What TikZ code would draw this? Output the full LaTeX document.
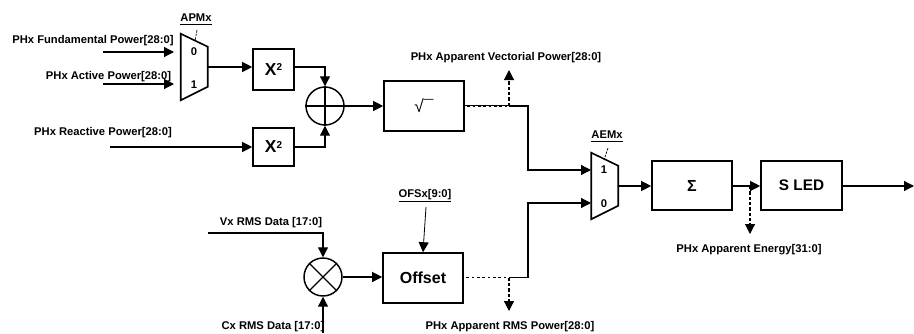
\documentclass[tikz,border=0pt]{standalone}
\usepackage{fontspec}
\setmainfont{Liberation Sans}
\usetikzlibrary{arrows.meta}
\newcommand{\sqmark}{X\raisebox{3.6pt}{\fontsize{7.5pt}{8pt}\selectfont 2}}
\tikzset{
  x=0.75pt,y=-0.75pt,
  wire/.style={line width=0.9pt,draw=black},
  arrowwire/.style={wire,-{Triangle[length=7.5pt,width=7.5pt]}},
  dashwire/.style={line width=0.9pt,dash pattern=on 2.6pt off 1.4pt},
  dasharrow/.style={dashwire,-{Triangle[length=7.5pt,width=7.5pt,sep=0pt]}},
  blockbox/.style={draw=black,line width=1.2pt,inner sep=0pt,font=\bfseries\fontsize{#1}{#1}\selectfont},
  blockbox/.default=11pt,
  sumcircle/.style={draw=black,line width=1.1pt,circle,inner sep=0pt,minimum size=28.5pt},
  lab/.style={inner sep=0pt,yshift=-1.1pt,font=\bfseries\fontsize{8.4pt}{9pt}\selectfont},
  pin/.style={inner sep=0pt,yshift=-0.7pt,font=\bfseries\fontsize{8.4pt}{9pt}\selectfont},
  muxframe/.style={inner sep=0pt,minimum width=20.25pt},
  muxline/.style={draw=black,line width=1.2pt,line join=miter},
  tick/.style={line width=0.5pt,dash pattern=on 2pt off 0.8pt},
  fleck/.style={white,line width=0.15pt,dash pattern=on 2pt off 2pt},
}
\begin{document}
\begin{tikzpicture}
\useasboundingbox (0,0) rectangle (914,333);
% blocks
\node[blockbox=13pt,minimum width=30.75pt,minimum height=30.75pt] (sq1) at (273.5,69.5) {\sqmark};
\node[blockbox=13pt,minimum width=30.75pt,minimum height=28.5pt] (sq2) at (273.5,147) {\sqmark};
\node[blockbox,font=\fontsize{13pt}{13pt}\selectfont,minimum width=60pt,minimum height=37.5pt] (root) at (424,106) {√¯};
\node[blockbox=12pt,minimum width=60pt,minimum height=37.5pt] (ofs) at (423,278) {Offset};
\node[blockbox=12pt,minimum width=60pt,minimum height=36.75pt] (sig) at (692,185.5) {Σ};
\node[blockbox=11.5pt,minimum width=60.75pt,minimum height=36.75pt] (led) at (801.5,185.5) {S LED};
\node[sumcircle] (add) at (325,106) {};
\node[sumcircle] (mul) at (323,277) {};
\draw[wire] (add.west)--(add.east) (add.north)--(add.south);
\draw[wire] (mul.north west)--(mul.south east) (mul.north east)--(mul.south west);
% muxes
\node[muxframe,minimum height=49.5pt] (apm) at (194.5,67) {};
\draw[muxline] (apm.north west)--++(27,13)--++(0,40)--(apm.south west)--cycle;
\node[muxframe,minimum height=49.5pt] (aem) at (605,186) {};
\draw[muxline] (aem.north west)--++(27,13)--++(0,40)--(aem.south west)--cycle;
\node[pin] (apm0) at (194,51) {0};
\node[pin] (apm1) at (194,84) {1};
\node[pin] (aem1) at (604,169) {1};
\node[pin] (aem0) at (604,203) {0};
% labels
\node[lab] (lfund) at (93,39) {PHx Fundamental Power[28:0]};
\node[lab] (lact) at (108.5,75) {PHx Active Power[28:0]};
\node[lab] (lreac) at (103,131.5) {PHx Reactive Power[28:0]};
\node[lab] (lvect) at (506,56) {PHx Apparent Vectorial Power[28:0]};
\node[lab] (lvx) at (271,221) {Vx RMS Data [17:0]};
\node[lab] (lcx) at (273,325) {Cx RMS Data [17:0]};
\node[lab] (lrms) at (510,325) {PHx Apparent RMS Power[28:0]};
\node[lab] (lenergy) at (749,248) {PHx Apparent Energy[31:0]};
\node[lab] (lapm) at (196,18) {\underline{APMx}};
\node[lab] (laem) at (607,135) {\underline{AEMx}};
\node[lab] (lofs) at (425,194) {\underline{OFSx[9:0]}};
% free ends
\coordinate (fundS) at (103,52); \coordinate (fundE) at (174,52);
\coordinate (actS) at (103,84);  \coordinate (actE) at (174,84);
\coordinate (reacS) at (110,147);
\coordinate (vxS) at (208,233);
\coordinate (cxS) at (323,333);
\coordinate (ofsS) at (426,207);
\coordinate (outE) at (914,186);
\coordinate (vectE) at (509,70);
\coordinate (rmsE) at (509,311);
\coordinate (enE) at (750,234);
\coordinate (vectT) at (509,106);
\coordinate (rmsT) at (509,277.5);
\coordinate (enT) at (750,186);
\coordinate (busX) at (528,0);
\coordinate (aem1E) at (591,170);
\coordinate (aem0E) at (591,203);
\coordinate (apmO) at (208,67);
\coordinate (aemO) at (619,186);
% connectors
\draw[arrowwire] (fundS)--(fundE);
\draw[arrowwire] (actS)--(actE);
\draw[arrowwire] (apmO)--(sq1.west|-apmO);
\draw[arrowwire] (reacS)--(sq2.west|-reacS);
\draw[arrowwire] (sq1.east|-apmO)-|(add.north);
\draw[arrowwire] (sq2.east)-|(add.south);
\draw[arrowwire] (add.east)--(root.west);
\draw[arrowwire] (root.east)-|(busX|-aem1E)--(aem1E);
\draw[fleck] (root.east)--(vectT);
\draw[dasharrow] (vectT)--(vectE);
\draw[arrowwire] (vxS)-|(mul.north);
\draw[arrowwire] (cxS)--(mul.south);
\draw[arrowwire] (mul.east)--(ofs.west|-mul.east);
\draw[arrowwire,line width=0.6pt] (ofsS)--(ofs.north);
\draw[arrowwire] (ofs.east|-rmsT)-|(busX|-aem0E)--(aem0E);
\draw[fleck] (ofs.east|-rmsT)--(rmsT);
\draw[dasharrow] (rmsT)--(rmsE);
\draw[arrowwire] (aemO)--(sig.west|-aemO);
\draw[arrowwire] (sig.east|-aemO)--(led.west|-aemO);
\draw[dasharrow] (enT)--(enE);
\draw[arrowwire] (led.east|-aemO)--(outE);
% select ticks
\draw[tick] (lapm.south)++(1,5) -- (195,41);
\draw[tick] (laem.south)++(1,6) -- (605,157);
\end{tikzpicture}
\end{document}
